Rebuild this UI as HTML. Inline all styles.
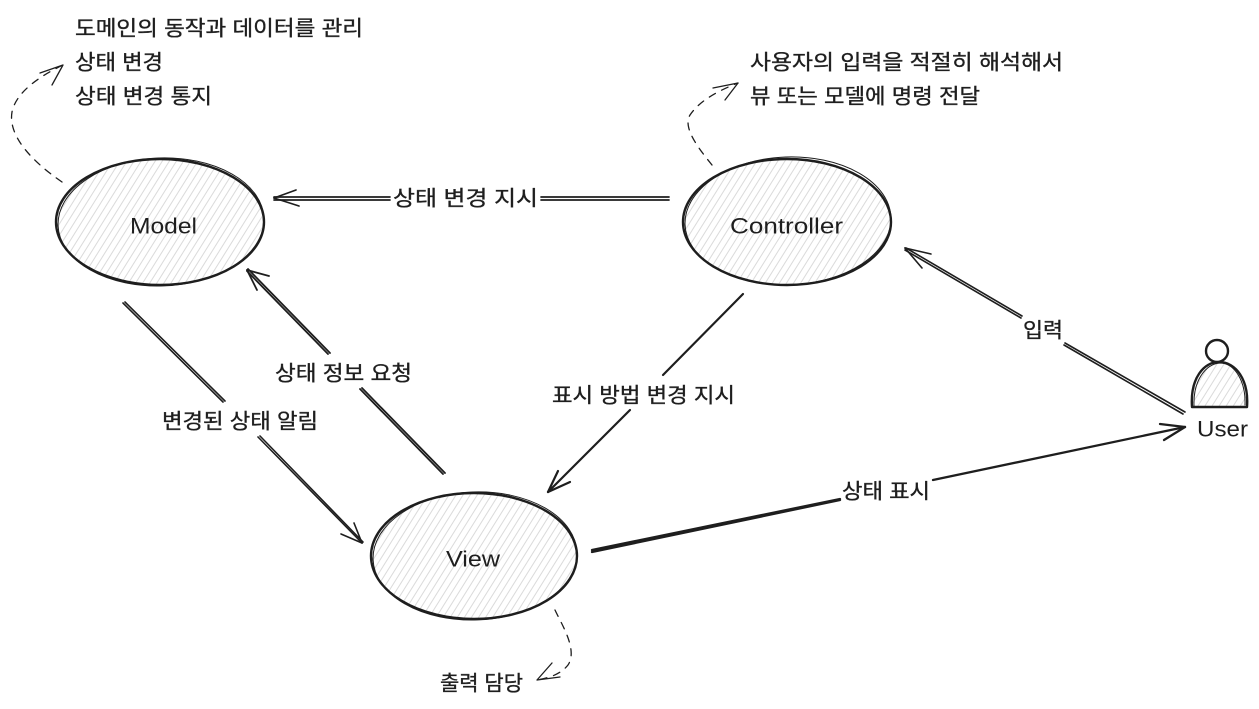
<!DOCTYPE html>
<html><head><meta charset="utf-8"><style>
html,body{margin:0;padding:0;background:#fff;}
svg{display:block;}
text{font-family:"Liberation Sans","Noto Sans CJK KR",sans-serif;fill:#1e1e1e;dominant-baseline:central;}
.k text{stroke:#1e1e1e;stroke-width:0.35;}
</style></head><body>
<svg width="1259" height="709" viewBox="0 0 1259 709" xmlns="http://www.w3.org/2000/svg">
<defs>
<pattern id="h" width="6" height="10" patternUnits="userSpaceOnUse" patternTransform="rotate(32)">
<line x1="1" y1="0" x2="1" y2="10" stroke="#d6d6d6" stroke-width="0.9"/>
</pattern>
</defs>
<g fill="none" stroke="#1e1e1e" stroke-linecap="round" stroke-linejoin="round">
<!-- Model -->
<ellipse cx="160" cy="222" rx="104" ry="63" fill="url(#h)" stroke="none"/>
<ellipse cx="160" cy="222" rx="104" ry="63" stroke-width="2.4"/>
<ellipse cx="161" cy="222" rx="103" ry="64" stroke-width="1" transform="rotate(-2 160 222)"/>
<!-- Controller -->
<ellipse cx="787" cy="222" rx="104" ry="63" fill="url(#h)" stroke="none"/>
<ellipse cx="787" cy="222" rx="104" ry="63" stroke-width="2.4"/>
<ellipse cx="788" cy="221" rx="103" ry="64" stroke-width="1" transform="rotate(-2 787 222)"/>
<!-- View -->
<ellipse cx="474" cy="556" rx="103" ry="63" fill="url(#h)" stroke="none"/>
<ellipse cx="474" cy="556" rx="103" ry="63" stroke-width="2.4"/>
<ellipse cx="475" cy="556" rx="102" ry="64" stroke-width="1" transform="rotate(-2 474 556)"/>
<!-- User icon -->
<path d="M1192,407 C1190,378 1204,362 1219,362 C1236,362 1249,380 1247,407 Z" fill="url(#h)" stroke="none"/>
<path d="M1192,407 C1190,378 1204,362 1219,362 C1236,362 1249,380 1247,407 L1192,407" stroke-width="2.4"/>
<path d="M1194,406 C1193,380 1206,364 1220,363 C1235,363 1246,382 1245,405" stroke-width="1"/>
<circle cx="1217" cy="351" r="11" fill="#fff" stroke-width="2.4"/>

<!-- Controller -> Model -->
<g stroke-width="1.7">
<line x1="669" y1="197" x2="541" y2="197"/><line x1="669" y1="200" x2="541" y2="200"/>
<line x1="390" y1="197" x2="274" y2="197"/><line x1="390" y1="200" x2="274" y2="200"/>
<line x1="274" y1="198" x2="296" y2="190"/><line x1="274" y1="198" x2="299" y2="206"/>
</g>
<!-- View -> Model -->
<g stroke-width="1.8">
<line x1="445" y1="473" x2="362" y2="388"/><line x1="443" y1="474" x2="360" y2="389"/>
<line x1="330" y1="353" x2="248" y2="269"/><line x1="328" y1="354" x2="247" y2="271"/>
<line x1="247" y1="270" x2="269" y2="276"/><line x1="247" y1="270" x2="257" y2="290"/>
</g>
<!-- Model -> View -->
<g stroke-width="1.6">
<line x1="123" y1="303" x2="223" y2="402"/><line x1="125" y1="302" x2="225" y2="401"/>
<line x1="258" y1="437" x2="362" y2="543"/><line x1="260" y1="436" x2="363" y2="542"/>
<line x1="362" y1="543" x2="341" y2="534"/><line x1="362" y1="543" x2="354" y2="523"/>
</g>
<!-- Controller -> View -->
<g stroke-width="2.2">
<line x1="743" y1="294" x2="663" y2="375"/>
<line x1="630" y1="410" x2="548" y2="492"/>
<line x1="548" y1="492" x2="570" y2="482"/><line x1="548" y1="492" x2="558" y2="471"/>
</g>
<!-- User -> Controller -->
<g stroke-width="1.6">
<line x1="1185" y1="412" x2="1065" y2="343"/><line x1="1183" y1="414" x2="1064" y2="345"/>
<line x1="1022" y1="316" x2="906" y2="248"/><line x1="1021" y1="318" x2="905" y2="250"/>
<line x1="905" y1="248" x2="931" y2="254"/><line x1="905" y1="248" x2="922" y2="268"/>
</g>
<!-- View -> User -->
<g stroke-width="2.3">
<line x1="592" y1="552" x2="840" y2="500"/><line x1="592" y1="550" x2="840" y2="499"/>
<line x1="933" y1="480" x2="1185" y2="427"/>
<line x1="1185" y1="427" x2="1160" y2="424"/><line x1="1185" y1="427" x2="1164" y2="440"/>
</g>
<!-- dashed curves -->
<g stroke-width="1.3" stroke-dasharray="7 7">
<path d="M62,182 C30,160 8,135 12,112 C16,92 40,76 63,65"/>
<path d="M712,165 C700,150 682,128 690,115 C700,100 720,90 738,83"/>
<path d="M555,610 C562,625 578,650 568,665 C560,675 548,678 537,680"/>
</g>
<g stroke-width="1.3">
<path d="M63,65 L40,73 M63,65 L52,85"/>
<path d="M738,83 L713,88 M738,83 L725,100"/>
<path d="M537,680 L552,663 M537,680 L560,677"/>
</g>
</g>

<!-- text -->
<g font-size="21" class="k">
<text x="75" y="29" textLength="288" lengthAdjust="spacingAndGlyphs">도메인의 동작과 데이터를 관리</text>
<text x="75" y="63" textLength="88" lengthAdjust="spacingAndGlyphs">상태 변경</text>
<text x="75" y="97" textLength="137" lengthAdjust="spacingAndGlyphs">상태 변경 통지</text>
<text x="750" y="63" textLength="313" lengthAdjust="spacingAndGlyphs">사용자의 입력을 적절히 해석해서</text>
<text x="750" y="97" textLength="230" lengthAdjust="spacingAndGlyphs">뷰 또는 모델에 명령 전달</text>
<text x="393" y="199" textLength="145" lengthAdjust="spacingAndGlyphs">상태 변경 지시</text>
<text x="275" y="374" textLength="137" lengthAdjust="spacingAndGlyphs">상태 정보 요청</text>
<text x="162" y="422" textLength="156" lengthAdjust="spacingAndGlyphs">변경된 상태 알림</text>
<text x="552" y="396" textLength="183" lengthAdjust="spacingAndGlyphs">표시 방법 변경 지시</text>
<text x="842" y="492" textLength="88" lengthAdjust="spacingAndGlyphs">상태 표시</text>
<text x="1023" y="331" textLength="40" lengthAdjust="spacingAndGlyphs">입력</text>
<text x="440" y="684" textLength="83" lengthAdjust="spacingAndGlyphs">출력 담당</text>
</g>
<g font-size="22">
<text x="130" y="226" textLength="67" lengthAdjust="spacingAndGlyphs">Model</text>
<text x="730" y="226" textLength="113" lengthAdjust="spacingAndGlyphs">Controller</text>
<text x="446" y="559" textLength="54" lengthAdjust="spacingAndGlyphs">View</text>
<text x="1197" y="429" textLength="51" lengthAdjust="spacingAndGlyphs">User</text>
</g>
</svg>
</body></html>
